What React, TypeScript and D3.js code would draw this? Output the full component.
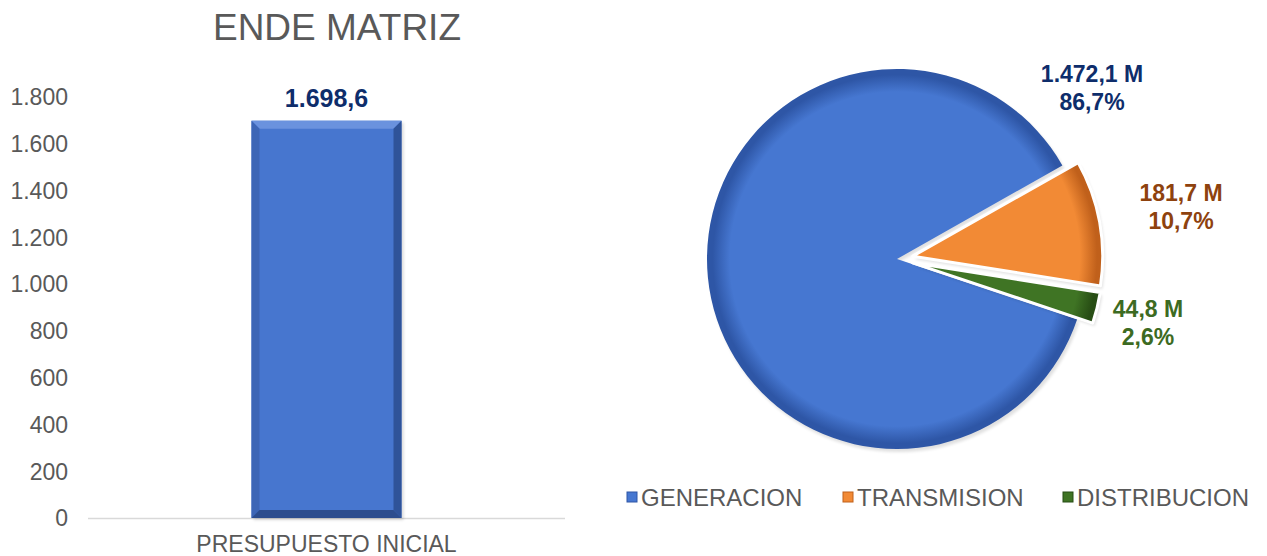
import React from "react";
import * as d3 from "d3";

const barCategories = ["PRESUPUESTO INICIAL"];
const barValues = [1698.6];
const yTicks = [0, 200, 400, 600, 800, 1000, 1200, 1400, 1600, 1800];

const pieCategories = ["GENERACION", "TRANSMISION", "DISTRIBUCION"];
const pieValues = [1472.1, 181.7, 44.8];
const piePercents = [86.7, 10.7, 2.6];
const pieExploded = [false, true, true];

const title = "ENDE MATRIZ";

const W = 1267;
const H = 556;
const FONT = "'Liberation Sans', Arial, sans-serif";
const GRAY = "#595959";

const pieColors = ["#4677D1", "#F28A35", "#3F7424"];
const pieDark = ["#2E56A6", "#C0601B", "#274D14"];
const labelColors = ["#0E2D6B", "#8E420E", "#3D6B22"];

const loc = d3.formatLocale({ decimal: ",", thousands: ".", grouping: [3], currency: ["", ""] });
const fmtInt = loc.format(",.0f");
const fmt1 = loc.format(",.1f");

export default function App() {
  // Bar chart
  const x = d3.scaleBand<string>().domain(barCategories).range([88, 565]).paddingInner(0.5215).paddingOuter(0.5215);
  const y = d3.scaleLinear().domain([0, 1800]).range([518, 97]);

  // Pie
  const cx = 897;
  const cy = 259;
  const r = 190;
  const explode = 16;
  const start = (108.5 * Math.PI) / 180;
  const pie = d3.pie<number>().sort(null).value((d) => d).startAngle(start).endAngle(start + 2 * Math.PI);
  const arcs = pie(pieValues);
  const arcGen = d3.arc<d3.PieArcDatum<number>>().innerRadius(0).outerRadius(r);

  const labelPos = [
    { x: 1092, y1: 82, y2: 110 },
    { x: 1181, y1: 201, y2: 229 },
    { x: 1148, y1: 317, y2: 345 },
  ];

  const legendX = [627, 843, 1063];
  const legendY = 497;

  return (
    <svg width={W} height={H} style={{ position: "absolute", left: 0, top: 0, background: "#fff" }} fontFamily={FONT}>
      <defs>
        {pieColors.map((c, i) => (
          <radialGradient key={i} id={`pg${i}`} gradientUnits="userSpaceOnUse" cx={0} cy={0} r={r}>
            <stop offset="0%" stopColor={c} />
            <stop offset="88%" stopColor={c} />
            <stop offset="97%" stopColor={pieDark[i]} />
            <stop offset="100%" stopColor={pieDark[i]} />
          </radialGradient>
        ))}
        <filter id="soft" x="-10%" y="-10%" width="120%" height="120%">
          <feGaussianBlur stdDeviation="1.5" />
        </filter>
      </defs>

      {/* Title */}
      <text x={337} y={40} textAnchor="middle" fontSize={37} fill={GRAY}>
        {title}
      </text>

      {/* Y ticks */}
      {yTicks.map((t) => (
        <text key={t} x={68} y={y(t)} dy="0.36em" textAnchor="end" fontSize={23} fill={GRAY}>
          {fmtInt(t)}
        </text>
      ))}

      {/* Baseline */}
      <line x1={88} x2={565} y1={y(0) + 0.5} y2={y(0) + 0.5} stroke="#D9D9D9" strokeWidth={1.5} />

      {/* Bars */}
      {barCategories.map((c, i) => {
        const bx = x(c)!;
        const bw = x.bandwidth();
        const by = y(barValues[i]);
        const bb = y(0);
        const b = 8;
        return (
          <g key={c}>
            <rect x={bx + 2} y={by + 2} width={bw} height={bb - by} fill="#000" opacity={0.15} filter="url(#soft)" />
            <rect x={bx} y={by} width={bw} height={bb - by} fill="#4776CF" />
            <polygon points={`${bx},${by} ${bx + bw},${by} ${bx + bw - b},${by + b} ${bx + b},${by + b}`} fill="#6A92DE" />
            <polygon points={`${bx},${by} ${bx + b},${by + b} ${bx + b},${bb - b} ${bx},${bb}`} fill="#3D66B6" />
            <polygon points={`${bx + bw},${by} ${bx + bw - b},${by + b} ${bx + bw - b},${bb - b} ${bx + bw},${bb}`} fill="#2F5399" />
            <polygon points={`${bx},${bb} ${bx + b},${bb - b} ${bx + bw - b},${bb - b} ${bx + bw},${bb}`} fill="#2C4D8E" />
            <text x={bx + bw / 2} y={by - 14} textAnchor="middle" fontSize={25} fontWeight="bold" fill="#0E2D6B">
              {fmt1(barValues[i])}
            </text>
            <text x={bx + bw / 2} y={552} textAnchor="middle" fontSize={23} fill={GRAY}>
              {c}
            </text>
          </g>
        );
      })}

      {/* Pie */}
      {arcs.map((a, i) => {
        const mid = (a.startAngle + a.endAngle) / 2;
        const off = pieExploded[i] ? explode : 0;
        const ox = cx + Math.sin(mid) * off;
        const oy = cy - Math.cos(mid) * off;
        return (
          <g key={i} transform={`translate(${ox},${oy})`}>
            <path d={arcGen(a)!} fill="#000" opacity={0.12} transform="translate(2,3)" filter="url(#soft)" />
            <path
              d={arcGen(a)!}
              fill={`url(#pg${i})`}
              stroke={pieExploded[i] ? "#FFFFFF" : "none"}
              strokeWidth={pieExploded[i] ? 3 : 0}
              strokeLinejoin="round"
            />
          </g>
        );
      })}

      {/* Pie labels */}
      {pieCategories.map((c, i) => (
        <g key={c} fontWeight="bold" fontSize={23} fill={labelColors[i]} textAnchor="middle">
          <text x={labelPos[i].x} y={labelPos[i].y1}>{`${fmt1(pieValues[i])} M`}</text>
          <text x={labelPos[i].x} y={labelPos[i].y2}>{`${fmt1(piePercents[i])}%`}</text>
        </g>
      ))}

      {/* Legend */}
      {pieCategories.map((c, i) => (
        <g key={c}>
          <rect x={legendX[i]} y={legendY - 5} width={10} height={10} fill={pieColors[i]} stroke={pieDark[i]} strokeWidth={1} />
          <text x={legendX[i] + 14} y={legendY} dy="0.36em" fontSize={24} fill={GRAY}>
            {c}
          </text>
        </g>
      ))}
    </svg>
  );
}
